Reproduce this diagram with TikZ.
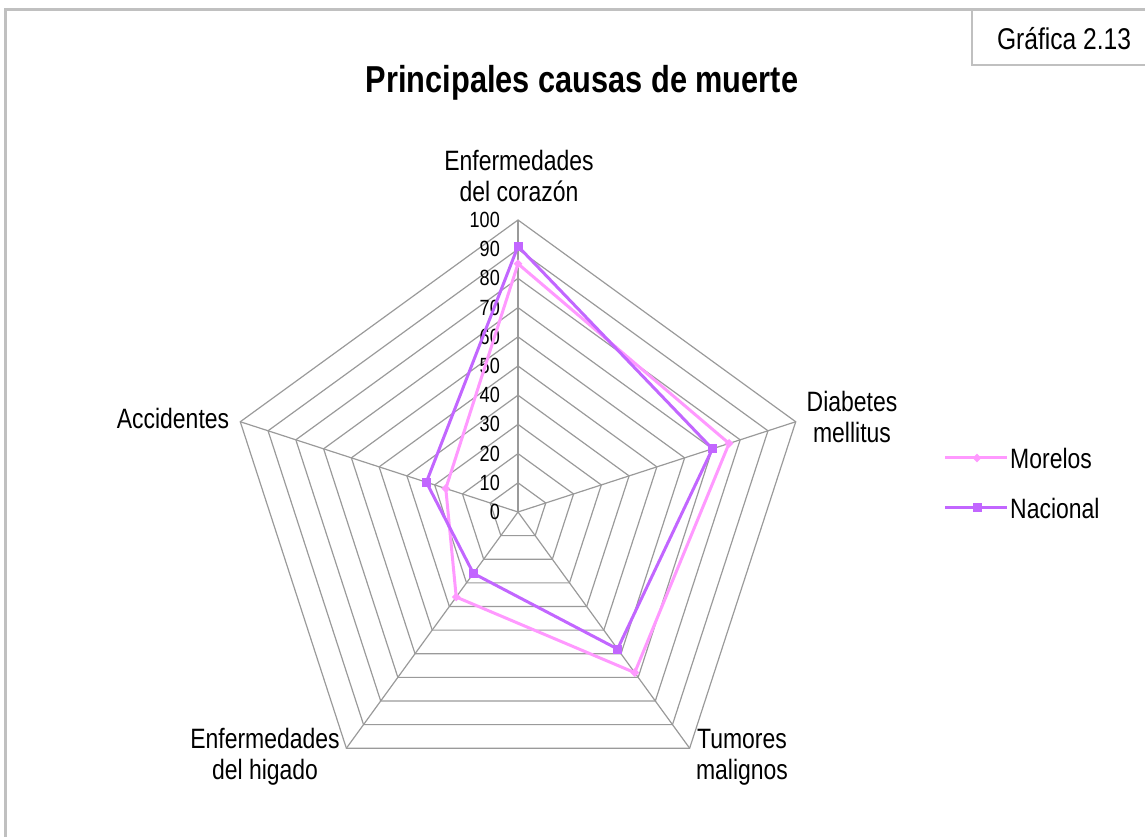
\documentclass[tikz,border=0pt]{standalone}
\usepackage{fontspec}
\setmainfont{Liberation Sans}[FakeStretch=0.82]
\usetikzlibrary{calc,shapes.geometric}
\definecolor{marco}{HTML}{C0C0C0}
\definecolor{rejilla}{HTML}{9A9A9A}
\definecolor{morelos}{HTML}{FF99FF}
\definecolor{nacional}{HTML}{C266FF}
\tikzset{
  etiqueta/.style={font=\fontsize{28}{31}\selectfont, align=center, inner sep=0pt},
  escala/.style={font=\fontsize{22}{23}\selectfont, anchor=east, inner sep=0pt},
  serieM/.style={line width=3pt, color=morelos},
  serieN/.style={line width=3pt, color=nacional},
  marcaM/.style={diamond, fill=morelos, inner sep=0pt, minimum size=9pt},
  marcaN/.style={rectangle, fill=nacional, inner sep=0pt, minimum size=9pt}
}
\begin{document}
\begin{tikzpicture}[x=1pt, y=1pt]
			%%%%% START %%%%%
			\useasboundingbox (0, 0) rectangle (1145, 837);
			
			% marco
			\draw[line width=3pt, color=marco] (5.5, 0) -- (5.5, 827.5) -- (1145, 827.5);
			\draw[line width=2pt, color=marco] (972, 827.5) -- (972, 772) -- (1145, 772);
			\node[font=\fontsize{30}{33}\selectfont, inner sep=0pt] (grafica) at (1064, 798) {Gráfica 2.13};
			
			\node[font=\fontsize{37.5}{40}\selectfont\bfseries] (titulo) at (582, 754) {Principales causas de muerte};
			
			\coordinate (C) at (518, 325);
			
			% rejilla
			\foreach \v in {10, 20, ..., 100}
				\draw[line width=1.2pt, color=rejilla] ($(C)+(90:\v*2.92)$) -- ($(C)+(18:\v*2.92)$) -- ($(C)+(-54:\v*2.92)$) -- ($(C)+(-126:\v*2.92)$) -- ($(C)+(162:\v*2.92)$) -- cycle;
			\foreach \a in {90, 18, -54, -126, 162}
				\draw[line width=1.2pt, color=rejilla] (C) -- ($(C)+(\a:292)$);
			
			\foreach \v in {0, 10, ..., 100}
				\node[escala] (e\v) at ($(C)+(-18, \v*2.92)$) {\v};
			
			% categorias
			\node[etiqueta] (corazon) at (519, 661) {Enfermedades\\del corazón};
			\node[etiqueta] (diabetes) at (852, 420) {Diabetes\\mellitus};
			\node[etiqueta] (tumores) at (742, 80) {Tumores\\malignos};
			\node[etiqueta] (higado) at (265, 80) {Enfermedades\\del higado};
			\node[etiqueta] (accidentes) at (173, 419) {Accidentes};
			
			% series
			\foreach \a/\v [count=\i] in {90/85, 18/76, -54/68, -126/36, 162/26}
				\coordinate (m\i) at ($(C)+(\a:\v*2.92)$);
			\foreach \a/\v [count=\i] in {90/91, 18/70, -54/58, -126/26, 162/33}
				\coordinate (n\i) at ($(C)+(\a:\v*2.92)$);
			
			\draw[serieM, line join=round] (m1) -- (m2) -- (m3) -- (m4) -- (m5) -- cycle;
			\foreach \i in {1, ..., 5}
				\node[marcaM] at (m\i) {};
			\draw[serieN, line join=round] (n1) -- (n2) -- (n3) -- (n4) -- (n5) -- cycle;
			\foreach \i in {1, ..., 5}
				\node[marcaN] at (n\i) {};
			
			% leyenda
			\coordinate (legM) at (945, 379);
			\node[etiqueta, anchor=west, inner sep=3pt] (txtM) at (1007, 379) {Morelos};
			\draw[serieM] (legM) -- (txtM.west);
			\node[marcaM] at (977, 379) {};
			
			\coordinate (legN) at (945, 329);
			\node[etiqueta, anchor=west, inner sep=3pt] (txtN) at (1007, 329) {Nacional};
			\draw[serieN] (legN) -- (txtN.west);
			\node[marcaN] at (977, 329) {};
			
			%%%%% END %%%%%
\end{tikzpicture}
\end{document}
